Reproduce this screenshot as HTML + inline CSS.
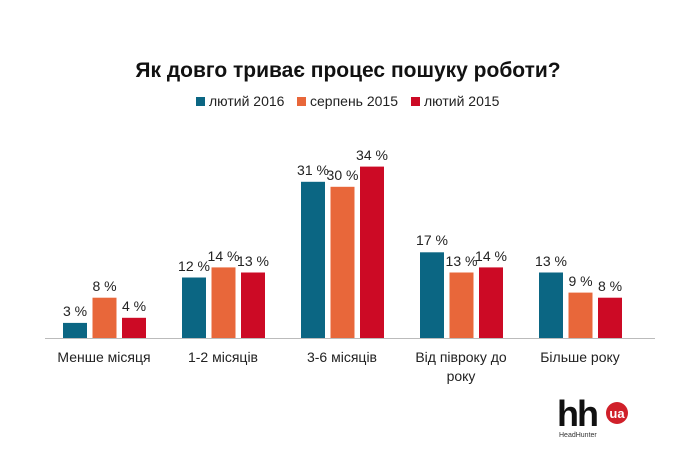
<!DOCTYPE html>
<html><head><meta charset="utf-8"><style>
body{margin:0;background:#fff;font-family:"Liberation Sans","DejaVu Sans",sans-serif;}
</style></head><body>
<svg width="697" height="460" xmlns="http://www.w3.org/2000/svg" font-family="Liberation Sans, DejaVu Sans, sans-serif">
<rect width="697" height="460" fill="#fff"/>
<text x="348" y="77" text-anchor="middle" font-size="21" font-weight="bold" fill="#111">Як довго триває процес пошуку роботи?</text>
<g font-size="14" fill="#222">
<rect x="196" y="97" width="9" height="9" fill="#0b6683"/><text x="209" y="106">лютий 2016</text>
<rect x="297" y="97" width="9" height="9" fill="#e8673a"/><text x="310" y="106">серпень 2015</text>
<rect x="411" y="97" width="9" height="9" fill="#cc0a25"/><text x="424" y="106">лютий 2015</text>
</g>
<line x1="45" y1="338.5" x2="655" y2="338.5" stroke="#bbb" stroke-width="1"/>
<g>
<rect x="63" y="322.9" width="24" height="15.1" fill="#0b6683"/>
<rect x="92.5" y="297.7" width="24" height="40.3" fill="#e8673a"/>
<rect x="122" y="317.8" width="24" height="20.2" fill="#cc0a25"/>
<rect x="182" y="277.5" width="24" height="60.5" fill="#0b6683"/>
<rect x="211.5" y="267.4" width="24" height="70.6" fill="#e8673a"/>
<rect x="241" y="272.5" width="24" height="65.5" fill="#cc0a25"/>
<rect x="301" y="181.8" width="24" height="156.2" fill="#0b6683"/>
<rect x="330.5" y="186.8" width="24" height="151.2" fill="#e8673a"/>
<rect x="360" y="166.6" width="24" height="171.4" fill="#cc0a25"/>
<rect x="420" y="252.3" width="24" height="85.7" fill="#0b6683"/>
<rect x="449.5" y="272.5" width="24" height="65.5" fill="#e8673a"/>
<rect x="479" y="267.4" width="24" height="70.6" fill="#cc0a25"/>
<rect x="539" y="272.5" width="24" height="65.5" fill="#0b6683"/>
<rect x="568.5" y="292.6" width="24" height="45.4" fill="#e8673a"/>
<rect x="598" y="297.7" width="24" height="40.3" fill="#cc0a25"/>
</g>
<g font-size="14" fill="#222" text-anchor="middle">
<text x="75" y="316">3 %</text>
<text x="104.5" y="291">8 %</text>
<text x="134" y="311">4 %</text>
<text x="194" y="271">12 %</text>
<text x="223.5" y="261">14 %</text>
<text x="253" y="266">13 %</text>
<text x="313" y="175">31 %</text>
<text x="342.5" y="180">30 %</text>
<text x="372" y="160">34 %</text>
<text x="432" y="245">17 %</text>
<text x="461.5" y="266">13 %</text>
<text x="491" y="261">14 %</text>
<text x="551" y="266">13 %</text>
<text x="580.5" y="286">9 %</text>
<text x="610" y="291">8 %</text>
</g>
<g font-size="14" fill="#222" text-anchor="middle">
<text x="104" y="362">Менше місяця</text>
<text x="223" y="362">1-2 місяців</text>
<text x="342" y="362">3-6 місяців</text>
<text x="461" y="362">Від півроку до</text>
<text x="461" y="381">року</text>
<text x="580" y="362">Більше року</text>
</g>
<text x="557" y="426" font-size="36" font-weight="bold" fill="#111" letter-spacing="-2">hh</text>
<circle cx="617" cy="413" r="11" fill="#d0202a"/>
<text x="617" y="418" text-anchor="middle" font-size="13" font-weight="bold" fill="#fff">ua</text>
<text x="559" y="437" font-size="7" fill="#333">HeadHunter</text>
</svg>
</body></html>
